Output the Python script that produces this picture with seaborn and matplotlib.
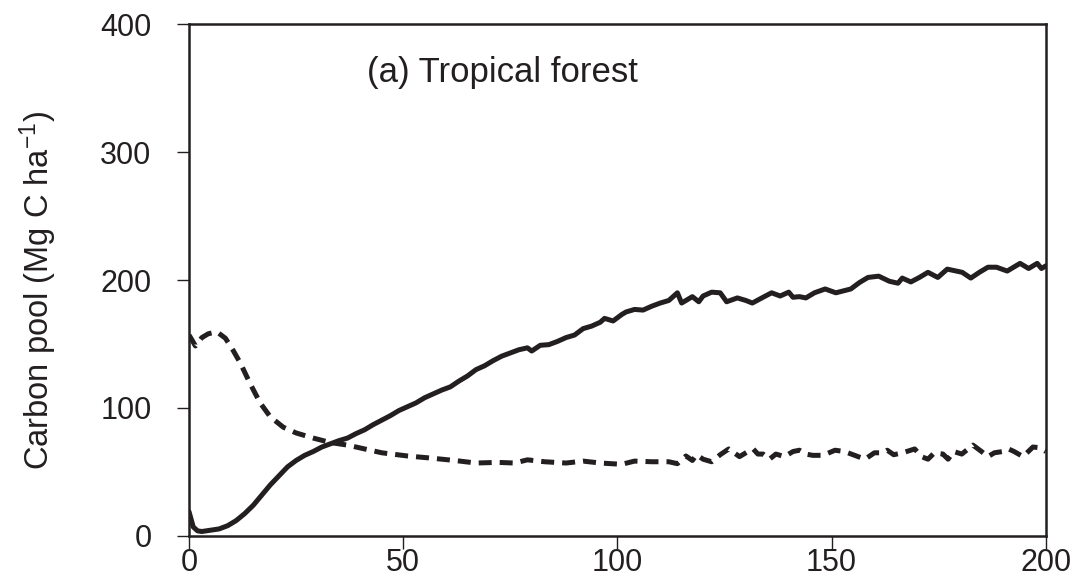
import matplotlib
matplotlib.use("Agg")
import matplotlib.pyplot as plt
import seaborn as sns
import pandas as pd

# solid line (year, carbon pool)
solid_year = [0, 1, 2, 3, 5, 7, 9, 11, 13, 15, 17, 19, 21, 23, 25, 27, 29, 31, 33, 35,
              37, 39, 41, 43, 45, 47, 49, 51, 53, 55, 57, 59, 61, 63, 65, 67, 69, 71, 73, 75,
              77, 79, 80, 82, 84, 86, 88, 90, 92, 94, 96, 97, 99, 101, 102, 104, 106, 108, 110, 112,
              114, 115, 117.5, 119, 120, 122, 124, 125.5, 128, 130, 131.5, 134, 136, 138, 140, 141, 142.5, 144, 146, 148.5,
              151, 154.5, 156.5, 158.5, 161, 163.5, 165.5, 166.5, 168.5, 170.5, 172.5, 174.8, 177, 180.5, 182.5, 184.5, 186.5, 188.5, 191, 194,
              196, 198, 199, 200]
solid_pool = [19, 7, 4, 3.5, 4.5, 5.5, 8, 12, 17.5, 24, 32, 40, 47, 54, 59, 63, 66, 69.5, 72, 74.5,
              76.5, 80, 83, 87, 90.5, 94, 98, 101, 104, 108, 111, 114, 116.5, 121, 125, 130, 133, 137, 140.5, 143,
              145.5, 147, 144.5, 149, 149.5, 152, 155, 157, 162, 164, 167, 170, 168, 173, 175, 177, 176.5, 179.5, 182, 184,
              190, 182, 187, 183, 187.5, 190.5, 190, 183, 186, 184, 182, 186.5, 190, 187.5, 190.5, 186.5, 187, 186, 190, 193,
              190, 193, 198, 202, 203, 199, 197.5, 201.5, 198.5, 202, 206, 202, 208.5, 206, 201.5, 206, 210, 210, 207, 213,
              209, 213, 209, 211]

# dashed line (year, carbon pool)
dashed_year = [0, 1.5, 3, 4.5, 6.5, 8.5, 10.3, 12, 14.2, 16.6, 19, 22, 25, 29, 33, 37, 41, 45, 51, 56,
               62, 67, 72, 76, 79, 83, 88, 92, 96, 101, 104, 108, 112, 114, 116, 117.5, 118.5, 120, 122, 124,
               126, 128.5, 130.5, 131.7, 132.8, 134, 135.5, 137, 139, 141, 142.5, 144, 145.6, 148, 150.8, 153, 155, 157.8, 160, 162,
               163, 164.5, 166.6, 169.4, 171, 172.5, 174, 176, 177.2, 178.5, 180.4, 183, 185, 186.5, 188, 190, 191.3, 192.6, 194.7, 197,
               198.5, 200]
dashed_pool = [157, 148.5, 155, 158, 159.5, 154.5, 145, 135, 119.5, 104, 93, 85, 80.5, 76.5, 73, 71, 68, 65, 62.5, 61,
               59, 57, 57.5, 57, 59.5, 58, 57, 58.5, 57, 56, 58.5, 58, 58, 56.5, 62.5, 59, 63.5, 60, 58, 63.5,
               68, 62, 66, 68, 64, 64, 60, 64, 62, 66, 67, 64, 63, 63, 67, 66, 63.5, 60, 65, 65,
               67, 63.5, 65, 68, 62, 60, 65, 64, 60, 66, 64, 71, 66, 62, 65, 66, 68, 66, 62, 69.5,
               69, 66]

title_text = "(a) Tropical forest"
ylabel_text = "Carbon pool (Mg C ha$^{-1}$)"
xticks = [0, 50, 100, 150, 200]
yticks = [0, 100, 200, 300, 400]

sns.set_style("ticks")
plt.rcParams["font.family"] = ["Liberation Sans", "DejaVu Sans"]
plt.rcParams["mathtext.fontset"] = "custom"
plt.rcParams["mathtext.rm"] = "Liberation Sans"
plt.rcParams["mathtext.default"] = "regular"

solid_df = pd.DataFrame({"year": solid_year, "pool": solid_pool})
dashed_df = pd.DataFrame({"year": dashed_year, "pool": dashed_pool})

fig = plt.figure(figsize=(10.77, 5.79), dpi=100)
ax = fig.add_axes([0.1755, 0.0743, 0.7955, 0.8842])

sns.lineplot(data=solid_df, x="year", y="pool", color="#231f20", linewidth=3.6, ax=ax)
sns.lineplot(data=dashed_df, x="year", y="pool", color="#231f20", linewidth=3.6,
             linestyle=(0, (2.6, 1.6)), ax=ax)

ax.set_xlim(0, 200)
ax.set_ylim(0, 400)
ax.set_xticks(xticks)
ax.set_yticks(yticks)
ax.tick_params(axis="y", labelsize=22, length=9, width=1, pad=18, colors="#231f20")
ax.tick_params(axis="x", labelsize=22, length=9, width=1, pad=0, colors="#231f20")
for s in ax.spines.values():
    s.set_visible(True)
    s.set_linewidth(1.8)
    s.set_color("#231f20")

ax.set_xlabel("")
ax.set_ylabel(ylabel_text, fontsize=23.5, color="#231f20")
ax.yaxis.set_label_coords(-0.152, 0.48)

ax.text(41.5, 362, title_text, fontsize=25, ha="left", va="center", color="#231f20")

fig.savefig("out.png", dpi=100)
